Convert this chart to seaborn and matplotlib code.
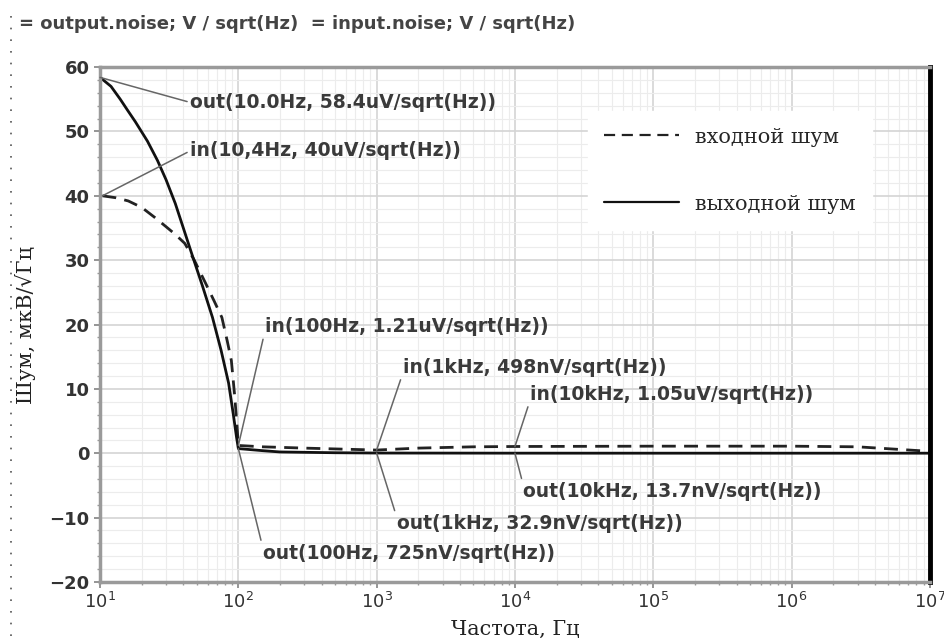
import numpy as np
import pandas as pd
import matplotlib
matplotlib.use("Agg")
import matplotlib.pyplot as plt
import matplotlib.ticker as mticker
from matplotlib.lines import Line2D
import seaborn as sns

# noise curves (uV/sqrt(Hz))
out_freq = [10, 12, 14, 15.8, 18, 22, 26, 30, 35, 40, 47, 55, 65, 75, 85, 92, 97, 100,
            150, 200, 500, 1000, 10000, 1e5, 1e6, 1e7]
out_noise = [58.4, 57.0, 55.0, 53.3, 51.5, 48.5, 45.5, 42.5, 38.8, 35.0, 30.4, 26.0, 21.1,
             16.0, 10.9, 6.0, 2.5, 0.725, 0.4, 0.2, 0.08, 0.0329, 0.0137, 0.01, 0.01, 0.01]

in_freq = [10.4, 13, 16, 20, 25, 30, 35, 41, 48, 58, 67, 76, 83, 89, 94, 98, 100,
           150, 300, 1000, 2000, 5000, 10000, 1e5, 1e6, 3e6, 1e7]
in_noise = [40, 39.7, 39.2, 38.2, 36.6, 35.2, 34.0, 32.6, 30.0, 26.4, 23.6, 21.1, 17.5,
            14.4, 9.0, 4.0, 1.21, 1.0, 0.8, 0.498, 0.8, 1.0, 1.05, 1.1, 1.1, 1.0, 0.3]

# markers: point on curve, text position, text, where the line meets the text
ann_xy = [(10, 58.4), (10.4, 40), (100, 1.21), (1000, 0.498), (10000, 1.05),
          (10000, 0.0137), (1000, 0.0329), (100, 0.725)]
ann_text_xy = [(45, 54.5), (45, 47), (155, 19.7), (1550, 13.4), (12900, 9.2),
               (11500, -5.9), (1400, -10.9), (150, -15.5)]
ann_labels = ["out(10.0Hz, 58.4uV/sqrt(Hz))", "in(10,4Hz, 40uV/sqrt(Hz))",
              "in(100Hz, 1.21uV/sqrt(Hz))", "in(1kHz, 498nV/sqrt(Hz))",
              "in(10kHz, 1.05uV/sqrt(Hz))", "out(10kHz, 13.7nV/sqrt(Hz))",
              "out(1kHz, 32.9nV/sqrt(Hz))", "out(100Hz, 725nV/sqrt(Hz))"]
ann_relpos = [(0, 0.5), (0, 0.5), (0, 0.2), (0, 0.2), (0, 0.2), (0, 0.8), (0, 0.8), (0, 0.8)]

df_out = pd.DataFrame({"freq": out_freq, "noise": out_noise})
df_in = pd.DataFrame({"freq": in_freq, "noise": in_noise})

sns.set_theme(style="white")
plt.rcParams["font.family"] = ["DejaVu Sans"]
serif = ["DejaVu Serif"]

fig = plt.figure(figsize=(9.44, 6.42), dpi=100)
ax = fig.add_axes([0.106, 0.0935, 0.879, 0.802])

sns.lineplot(data=df_in, x="freq", y="noise", ax=ax, color="#222222", lw=2,
             linestyle=(0, (5, 3)), label="входной шум")
sns.lineplot(data=df_out, x="freq", y="noise", ax=ax, color="#111111", lw=2,
             label="выходной шум")

ax.set_xscale("log")
ax.set_xlim(10, 1e7)
ax.set_ylim(-20, 60)
ax.set_yticks(np.arange(-20, 61, 10))
ax.xaxis.set_major_locator(mticker.LogLocator(base=10, numticks=10))
ax.xaxis.set_minor_locator(mticker.LogLocator(base=10, subs=np.arange(2, 10), numticks=20))
ax.yaxis.set_minor_locator(mticker.MultipleLocator(2))

ax.grid(True, which="major", color="#d4d4d4", lw=1.2)
ax.grid(True, which="minor", color="#ececec", lw=0.8)
ax.set_axisbelow(True)

ax.tick_params(axis="both", which="major", labelsize=13, labelcolor="#333333",
               length=4, color="#888888", direction="out", bottom=True, left=True)
ax.tick_params(axis="both", which="minor", length=2, color="#999999", bottom=True, left=True)
for lab in ax.get_yticklabels():
    lab.set_fontweight("bold")

for side in ["left", "bottom", "top"]:
    ax.spines[side].set_color("#9a9a9a")
    ax.spines[side].set_linewidth(2.5)
ax.spines["right"].set_color("black")
ax.spines["right"].set_linewidth(3.5)

ax.set_xlabel("Частота, Гц", family=serif, fontsize=15, color="#222222", labelpad=5)
ax.set_ylabel("Шум, мкВ/√Гц", family=serif, fontsize=15, color="#222222", labelpad=10)

for xy, txy, lab, rp in zip(ann_xy, ann_text_xy, ann_labels, ann_relpos):
    ax.annotate(lab, xy=xy, xytext=txy, ha="left", va="center", fontsize=13.5,
                fontweight="bold", color="#3a3a3a",
                arrowprops=dict(arrowstyle="-", color="#666666", lw=1.1,
                                shrinkA=0, shrinkB=0, relpos=rp))

leg = ax.legend(loc="upper left", bbox_to_anchor=(0.575, 0.935), frameon=True,
                handlelength=3.6, labelspacing=2.3, borderpad=0.8, handletextpad=0.75,
                prop={"family": serif, "size": 15})
leg.get_frame().set_facecolor("white")
leg.get_frame().set_edgecolor("white")
leg.get_frame().set_alpha(1)
for h in leg.get_lines():
    h.set_linewidth(1.6)

fig.text(0.02, 0.963, "= output.noise; V / sqrt(Hz)  = input.noise; V / sqrt(Hz)",
         fontsize=13, fontweight="bold", color="#444444", ha="left", va="center")
# dotted page edge on the left of the scan
fig.add_artist(Line2D([0.012, 0.012], [0.01, 0.99], transform=fig.transFigure,
                      color="#555555", lw=1.2, linestyle=(0, (1, 6))))

fig.savefig("out.png", dpi=100, facecolor="white")
